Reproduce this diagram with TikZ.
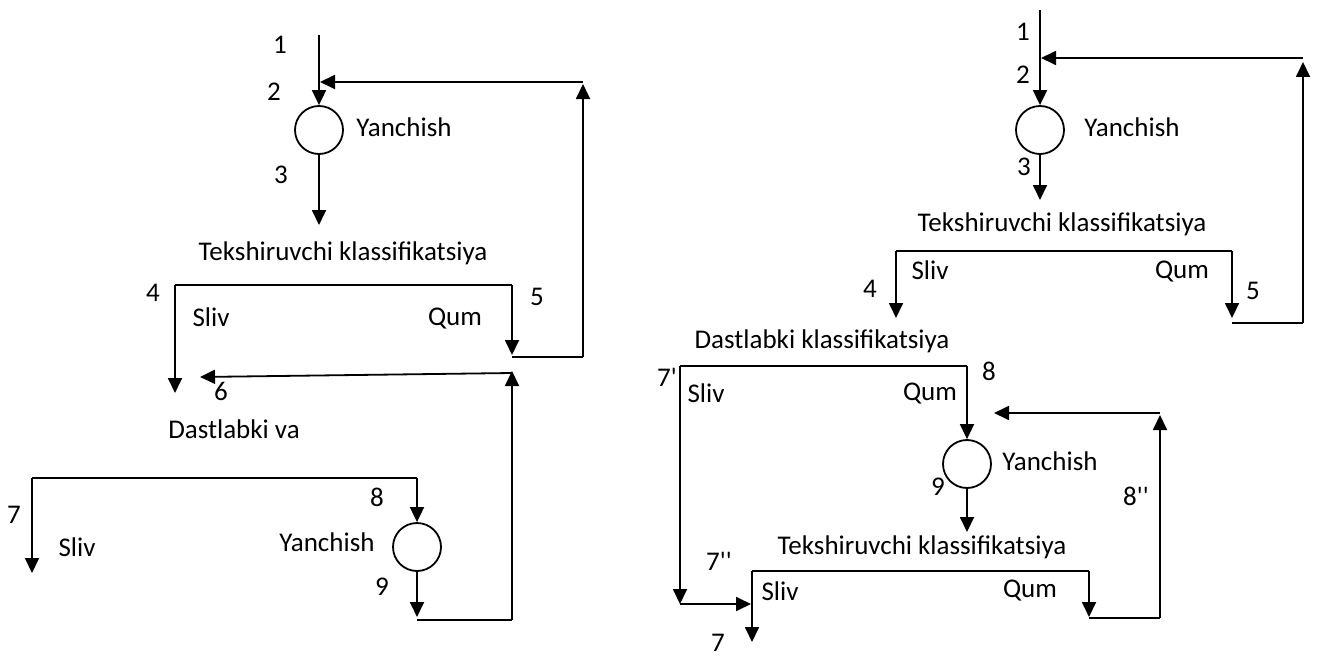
\documentclass[tikz,border=0pt]{standalone}
\usepackage{fontspec}
\setmainfont{Carlito}[Ligatures=TeXOff]
\usetikzlibrary{arrows.meta}
\begin{document}
\begin{tikzpicture}[x=1pt,y=-1pt,
  ln/.style={line width=1.8pt},
  arr/.style={line width=1.8pt,-{Triangle[length=15pt,width=14pt]}},
  mill/.style={circle,draw,line width=1.8pt,minimum size=48pt,inner sep=0pt},
  lbl/.style={inner sep=0pt,text height=0.65em,text depth=0pt,font=\fontsize{27}{31}\selectfont}]
\useasboundingbox[fill=white] (0,0) rectangle (1317,661);

% ================= LEFT DIAGRAM =================
\node[mill] (c1) at (319,130) {};
\node[mill] (c2) at (417,547) {};
\coordinate (a0) at (319,35);
\coordinate (a3) at (319,225);
\coordinate (bl1) at (175,285);
\coordinate (br1) at (512,285);
\coordinate (bl1e) at (175,393);
\coordinate (br1e) at (512,355);
\coordinate (q1) at (512,357);
\coordinate (q2) at (583,357);
\coordinate (q3) at (583,84);
\coordinate (q4) at (583,82);
\coordinate (q5) at (320,82);
\coordinate (s1) at (512,620);
\coordinate (s2) at (512,371);
\coordinate (s3) at (512,373);
\coordinate (s4) at (200,377);
\coordinate (bl2) at (32,478);
\coordinate (br2) at (417,478);
\coordinate (bl2e) at (32,573);
\coordinate (a9) at (417,617);
\coordinate (b9) at (417,620);

\draw[arr] (a0) -- (c1.north);
\draw[arr] (c1.south) -- (a3);
\draw[ln] (bl1) -- (br1);
\draw[arr] (bl1) -- (bl1e);
\draw[arr] (br1) -- (br1e);
\draw[ln] (q1) -- (q2);
\draw[arr] (q2) -- (q3);
\draw[arr] (q4) -- (q5);
\draw[arr] (s1) -- (s2);
\draw[arr] (s3) -- (s4);
\draw[ln] (bl2) -- (br2);
\draw[arr] (bl2) -- (bl2e);
\draw[arr] (br2) -- (c2.north);
\draw[arr] (c2.south) -- (a9);
\draw[ln] (b9) -- (s1);

\node[lbl] (l1) at (280,50) {1};
\node[lbl] (l2) at (274,97) {2};
\node[lbl] (l3) at (281,180) {3};
\node[lbl] (ly1) at (404,133) {Yanchish};
\node[lbl] (lt1) at (343,257) {Tekshiruvchi klassifikatsiya};
\node[lbl] (l4) at (153,298) {4};
\node[lbl] (l5) at (537,302) {5};
\node[lbl] (ls1) at (211,323) {Sliv};
\node[lbl] (lq1) at (455,322) {Qum};
\node[lbl] (l6) at (221,397) {6};
\node[lbl] (ld1) at (234,435) {Dastlabki va};
\node[lbl] (l7) at (14,520) {7};
\node[lbl] (ls2) at (77,553) {Sliv};
\node[lbl] (l8) at (377,503) {8};
\node[lbl] (ly2) at (327,548) {Yanchish};
\node[lbl] (l9) at (382,592) {9};

% ================= RIGHT DIAGRAM =================
\node[mill] (c3) at (1040,130) {};
\node[mill] (c4) at (967,464) {};
\coordinate (b0) at (1040,10);
\coordinate (b3) at (1040,200);
\coordinate (tl1) at (896,251);
\coordinate (tr1) at (1232,251);
\coordinate (tl1e) at (896,318);
\coordinate (tr1e) at (1232,318);
\coordinate (p1) at (1232,323);
\coordinate (p2) at (1303,323);
\coordinate (p3) at (1303,62);
\coordinate (p4) at (1303,58);
\coordinate (p5) at (1041,58);
\coordinate (dl) at (680,366);
\coordinate (dr) at (967,366);
\coordinate (dle) at (680,604);
\coordinate (h1) at (1160,413);
\coordinate (h2) at (994,413);
\coordinate (h3) at (1160,618);
\coordinate (h4) at (1160,415);
\coordinate (b9r) at (967,532);
\coordinate (tl2) at (752,571);
\coordinate (tr2) at (1089,571);
\coordinate (tr2e) at (1089,617);
\coordinate (tr2b) at (1089,618);
\coordinate (m1) at (751,604);
\coordinate (tl2e) at (752,642);

\draw[arr] (b0) -- (c3.north);
\draw[arr] (c3.south) -- (b3);
\draw[ln] (tl1) -- (tr1);
\draw[arr] (tl1) -- (tl1e);
\draw[arr] (tr1) -- (tr1e);
\draw[ln] (p1) -- (p2);
\draw[arr] (p2) -- (p3);
\draw[arr] (p4) -- (p5);
\draw[ln] (dl) -- (dr);
\draw[arr] (dl) -- (dle);
\draw[arr] (dr) -- (c4.north);
\draw[arr] (h1) -- (h2);
\draw[arr] (h3) -- (h4);
\draw[arr] (c4.south) -- (b9r);
\draw[ln] (tl2) -- (tr2);
\draw[arr] (tr2) -- (tr2e);
\draw[ln] (tr2b) -- (h3);
\draw[arr] (dle) -- (m1);
\draw[arr] (tl2) -- (tl2e);

\node[lbl] (r1) at (1023,37) {1};
\node[lbl] (r2) at (1023,80) {2};
\node[lbl] (ry1) at (1132,133) {Yanchish};
\node[lbl] (r3) at (1024,172) {3};
\node[lbl] (rt1) at (1062,228) {Tekshiruvchi klassifikatsiya};
\node[lbl] (rs1) at (930,276) {Sliv};
\node[lbl] (rq1) at (1182,275) {Qum};
\node[lbl] (r4) at (870,294) {4};
\node[lbl] (r5) at (1253,296) {5};
\node[lbl] (rd1) at (822,345) {Dastlabki klassifikatsiya};
\node[lbl] (r7a) at (667,383) {7'};
\node[lbl] (rs2) at (706,399) {Sliv};
\node[lbl] (rq2) at (930,397) {Qum};
\node[lbl] (r8) at (989,377) {8};
\node[lbl] (ry2) at (1050,467) {Yanchish};
\node[lbl] (r9) at (938,492) {9};
\node[lbl] (r8b) at (1136,502) {8''};
\node[lbl] (rt2) at (922,551) {Tekshiruvchi klassifikatsiya};
\node[lbl] (r7b) at (719,567) {7''};
\node[lbl] (rs3) at (780,597) {Sliv};
\node[lbl] (rq3) at (1030,594) {Qum};
\node[lbl] (r7) at (718,648) {7};
\end{tikzpicture}
\end{document}
